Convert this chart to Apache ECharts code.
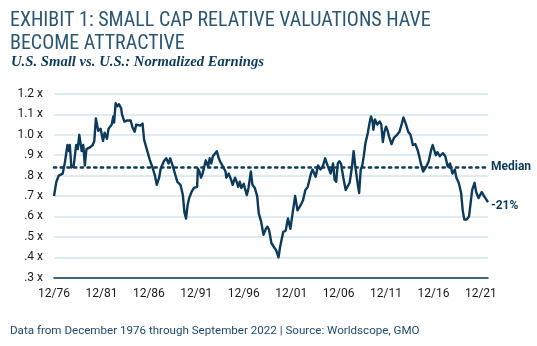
<!DOCTYPE html>
<html>
<head>
<meta charset="utf-8">
<script src="https://cdn.jsdelivr.net/npm/echarts@6/dist/echarts.min.js"></script>
<style>
  html, body { margin: 0; padding: 0; background: #ffffff; }
  #chart { width: 537px; height: 346px; }
</style>
</head>
<body>
<div id="chart"></div>
<script>
// Month-end observations, U.S. Small vs. U.S. on normalized earnings (relative multiple)
const months = [
  "1976-12","1977-03","1977-06","1977-11","1978-02","1978-05","1978-07","1978-08","1978-10","1979-01",
  "1979-04","1979-06","1979-08","1979-11","1980-01","1980-03","1980-05","1980-07","1980-10","1981-01",
  "1981-03","1981-05","1981-08","1981-11","1982-02","1982-04","1982-07","1982-09","1983-01","1983-03",
  "1983-04","1983-06","1983-08","1983-10","1984-01","1984-02","1984-05","1984-08","1985-01","1985-03",
  "1985-06","1985-08","1985-10","1986-01","1986-04","1986-06","1986-09","1987-01","1987-05","1987-08",
  "1987-10","1988-01","1988-03","1988-07","1988-10","1989-01","1989-03","1989-06","1989-09","1989-12",
  "1990-04","1990-07","1990-09","1990-11","1991-01","1991-03","1991-06","1991-09","1992-01","1992-02",
  "1992-04","1992-06","1992-08","1992-12","1993-03","1993-05","1993-07","1993-09","1993-11","1994-02",
  "1994-04","1994-06","1994-09","1995-01","1995-02","1995-05","1995-08","1995-10","1996-01","1996-03",
  "1996-05","1996-07","1996-09","1996-12","1997-02","1997-04","1997-06","1997-09","1997-11","1998-02",
  "1998-05","1998-07","1998-10","1999-01","1999-04","1999-06","1999-08","1999-11","2000-03","2000-05",
  "2000-08","2000-10","2001-02","2001-05","2001-08","2001-11","2002-02","2002-05","2002-08","2002-12",
  "2003-03","2003-06","2003-09","2004-01","2004-03","2004-07","2004-10","2005-01","2005-04","2005-07",
  "2005-10","2006-02","2006-05","2006-07","2006-09","2006-11","2007-01","2007-03","2007-06","2007-09",
  "2008-02","2008-05","2008-07","2008-09","2008-12","2009-02","2009-04","2009-06","2009-08","2009-10",
  "2010-01","2010-03","2010-05","2010-07","2010-08","2010-10","2011-01","2011-04","2011-06","2011-08",
  "2011-10","2011-12","2012-02","2012-04","2012-07","2012-10","2013-02","2013-05","2013-08","2013-10",
  "2014-01","2014-04","2014-07","2014-10","2015-01","2015-04","2015-06","2015-08","2015-11","2016-03",
  "2016-06","2016-09","2016-11","2017-03","2017-05","2017-08","2017-12","2018-03","2018-06","2018-09",
  "2018-12","2019-03","2019-05","2019-08","2019-11","2020-01","2020-03","2020-06","2020-09","2020-11",
  "2021-01","2021-04","2021-06","2021-09","2022-01","2022-04","2022-06","2022-09"
];
const relativeMultiple = [
  0.70,0.77,0.80,0.81,0.87,0.95,0.92,0.95,0.84,0.85,
  0.95,0.93,1.00,0.92,0.95,0.85,0.93,0.93,0.94,0.95,
  0.97,1.08,1.02,1.03,0.97,1.01,0.98,1.03,1.05,1.09,
  1.06,1.155,1.14,1.15,1.13,1.10,1.065,1.07,1.07,1.04,
  1.015,1.05,1.055,1.045,1.055,0.975,0.935,0.88,0.835,0.795,
  0.755,0.79,0.835,0.87,0.885,0.86,0.885,0.85,0.81,0.77,
  0.755,0.705,0.62,0.59,0.655,0.69,0.72,0.74,0.745,0.835,
  0.82,0.79,0.81,0.875,0.845,0.885,0.86,0.895,0.90,0.92,
  0.89,0.87,0.85,0.82,0.79,0.81,0.78,0.755,0.79,0.77,
  0.745,0.77,0.74,0.76,0.73,0.705,0.74,0.82,0.755,0.74,
  0.70,0.615,0.575,0.51,0.54,0.55,0.535,0.47,0.445,0.435,
  0.40,0.45,0.525,0.53,0.59,0.54,0.62,0.70,0.63,0.655,
  0.68,0.73,0.745,0.81,0.83,0.795,0.85,0.83,0.845,0.885,
  0.85,0.81,0.86,0.78,0.77,0.86,0.87,0.86,0.79,0.73,
  0.765,0.845,0.92,0.85,0.765,0.715,0.83,0.85,0.90,0.96,
  1.01,1.055,1.09,1.065,1.025,1.075,1.05,1.065,1.05,0.965,
  1.015,1.04,1.02,0.99,0.955,0.985,1.00,1.015,1.055,1.085,
  1.055,1.015,1.00,0.95,0.955,0.925,0.895,0.86,0.82,0.845,
  0.87,0.925,0.95,0.90,0.915,0.895,0.91,0.895,0.845,0.86,
  0.81,0.83,0.79,0.765,0.715,0.63,0.585,0.585,0.60,0.665,
  0.73,0.765,0.72,0.69,0.72,0.70,0.705,0.67
];
const medianValue = 0.845;
const yTicks = [0.3, 0.4, 0.5, 0.6, 0.7, 0.8, 0.9, 1.0, 1.1, 1.2];
const startYear = 1976, startMonth = 12, yearStep = 5;

const NAVY = '#0c3a5b';
const monthIndex = s => {
  const [y, m] = s.split('-').map(Number);
  return (y - startYear) * 12 + (m - startMonth);
};
const points = months.map((m, i) => [monthIndex(m), relativeMultiple[i]]);
const lastIndex = monthIndex(months[months.length - 1]);
const lastValue = relativeMultiple[relativeMultiple.length - 1];
const gapPct = Math.round((lastValue / medianValue - 1) * 100);

const chart = echarts.init(document.getElementById('chart'), null, { renderer: 'canvas' });
chart.setOption({
  animation: false,
  backgroundColor: '#ffffff',
  title: [
    {
      text: 'EXHIBIT 1: SMALL CAP RELATIVE VALUATIONS HAVE\nBECOME ATTRACTIVE',
      left: 5, top: 4,
      textStyle: { fontFamily: '"Liberation Sans Narrow", "Roboto Condensed", Roboto', fontWeight: 'normal', fontSize: 20, lineHeight: 23.5, color: '#2a5677' }
    },
    {
      text: 'U.S. Small vs. U.S.: Normalized Earnings',
      left: 6, top: 50,
      textStyle: { fontFamily: 'Liberation Serif', fontStyle: 'italic', fontWeight: 'bold', fontSize: 14.7, color: '#0c3a5b' }
    },
    {
      text: 'Data from December 1976 through September 2022 | Source: Worldscope, GMO',
      left: 5, top: 320,
      textStyle: { fontFamily: 'Roboto', fontWeight: 'normal', fontSize: 11.6, color: '#1c4a6b' }
    }
  ],
  grid: { left: 54, right: 49, top: 94, bottom: 68.3, containLabel: false },
  xAxis: {
    type: 'value',
    min: 0,
    max: lastIndex,
    interval: yearStep * 12,
    axisLine: { show: true, lineStyle: { color: NAVY, width: 1.5 } },
    axisTick: { show: false },
    splitLine: { show: false },
    axisLabel: {
      margin: 10,
      fontFamily: 'Roboto', fontSize: 12, color: '#1a1a1a',
      formatter: v => {
        if (v % (yearStep * 12) !== 0) return '';
        const yr = startYear + v / 12;
        return startMonth + '/' + String(yr % 100).padStart(2, '0');
      }
    }
  },
  yAxis: {
    type: 'value',
    min: yTicks[0],
    max: yTicks[yTicks.length - 1],
    interval: 0.1,
    axisLine: { show: false },
    axisTick: { show: false },
    splitLine: { show: true, lineStyle: { color: '#d5e4ee', width: 1.5 } },
    axisLabel: {
      margin: 11,
      fontFamily: 'Roboto', fontSize: 12, color: '#1a1a1a',
      formatter: v => {
        const r = Math.round(v * 10) / 10;
        const s = r.toFixed(1);
        return (r < 1 ? s.slice(1) : s) + ' x';
      }
    }
  },
  series: [{
    type: 'line',
    data: points,
    showSymbol: false,
    symbol: 'none',
    lineStyle: { color: NAVY, width: 2.4, join: 'round' },
    z: 3,
    endLabel: {
      show: true,
      formatter: () => gapPct + '%',
      distance: 3,
      offset: [0, 4],
      fontFamily: 'Roboto', fontWeight: 'bold', fontSize: 12, color: NAVY
    },
    markLine: {
      silent: true,
      symbol: 'none',
      lineStyle: { color: NAVY, width: 2.5, type: [2.2, 4.5], cap: 'round' },
      label: {
        show: true, position: 'end', distance: 3,
        formatter: 'Median',
        fontFamily: 'Roboto', fontWeight: 'bold', fontSize: 12, color: NAVY
      },
      data: [{ yAxis: medianValue }]
    }
  }]
});
</script>
</body>
</html>
